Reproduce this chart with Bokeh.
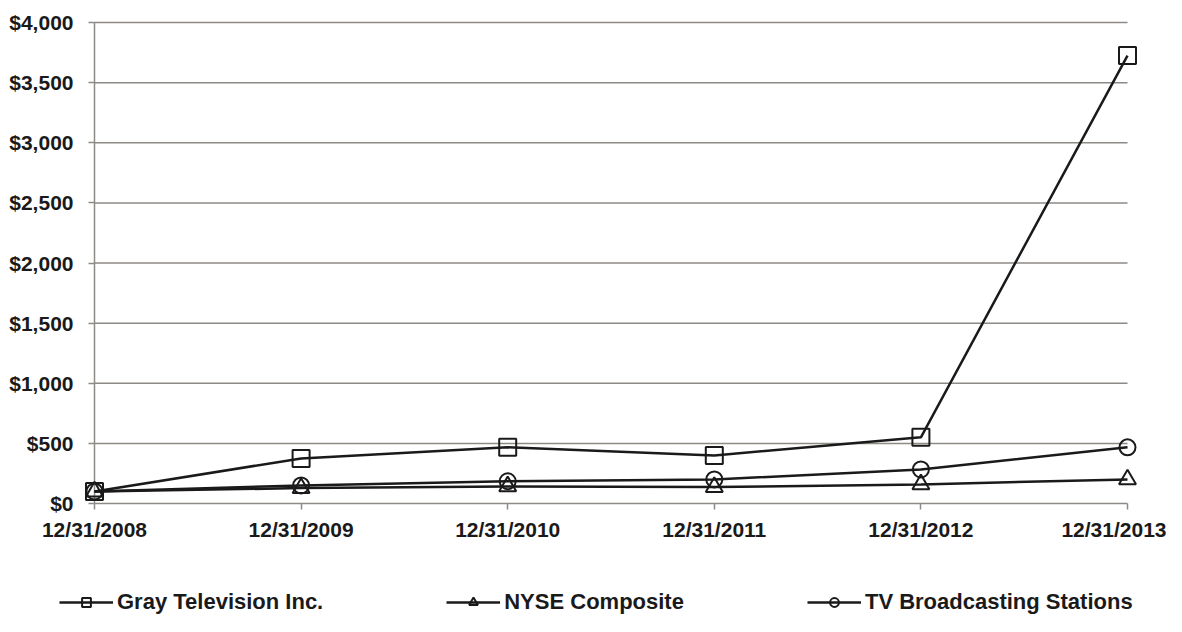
from bokeh.plotting import figure
from bokeh.models import (Range1d, FixedTicker, Legend, LegendItem)
from bokeh.embed import file_html
from bokeh.resources import INLINE

# ---- data ----
dates = ["12/31/2008", "12/31/2009", "12/31/2010", "12/31/2011", "12/31/2012", "12/31/2013"]
gray_tv = [100, 375, 467, 400, 550, 3725]
nyse = [100, 128, 142, 137, 159, 200]
tv_broadcasting = [100, 150, 185, 200, 283, 467]
y_ticks = [0, 500, 1000, 1500, 2000, 2500, 3000, 3500, 4000]
y_tick_labels = ["$0", "$500", "$1,000", "$1,500", "$2,000", "$2,500", "$3,000", "$3,500", "$4,000"]
series_names = ["Gray Television Inc.", "NYSE Composite", "TV Broadcasting Stations"]

x = list(range(len(dates)))
FONT = "Liberation Sans"
INK = "#1a1a1a"
GRID = "#8e8a86"

W, H = 1166, 616
# pixel layout of the plotting area inside the figure
X0_PX, X1_PX = 94, 1127   # first / last date
Y0_PX, Y1_PX = 503, 22    # $0 / $4,000
ux = (X1_PX - X0_PX) / (len(x) - 1)
uy = (Y0_PX - Y1_PX) / (y_ticks[-1] - y_ticks[0])

p = figure(width=W, height=H, output_backend="svg", toolbar_location=None,
           x_range=Range1d(x[0] - X0_PX / ux, x[-1] + (W - X1_PX) / ux),
           y_range=Range1d(y_ticks[0] - (H - Y0_PX) / uy, y_ticks[-1] + Y1_PX / uy),
           min_border=0)
p.outline_line_color = None
p.background_fill_color = "white"
p.border_fill_color = "white"
p.xgrid.visible = False
p.ygrid.visible = False

# gridlines spanning first to last date
n = len(y_ticks)
p.segment(x0=[x[0]] * n, x1=[x[-1]] * n, y0=y_ticks, y1=y_ticks, line_color=GRID, line_width=1.5)
# vertical axis line
p.segment(x0=[x[0]], x1=[x[0]], y0=[y_ticks[0]], y1=[y_ticks[-1]], line_color=GRID, line_width=1.5)

# axes, pinned at the data origin
p.xaxis.fixed_location = y_ticks[0]
p.xaxis.ticker = FixedTicker(ticks=x)
p.xaxis.major_label_overrides = {i: d for i, d in enumerate(dates)}
p.xaxis.major_label_standoff = 8

p.yaxis.fixed_location = x[0]
p.yaxis.ticker = FixedTicker(ticks=y_ticks)
p.yaxis.major_label_overrides = {t: l for t, l in zip(y_ticks, y_tick_labels)}
p.yaxis.major_label_standoff = 15

for ax in (p.xaxis, p.yaxis):
    ax.axis_line_color = None
    ax.major_tick_line_color = GRID
    ax.major_tick_line_width = 1.5
    ax.major_tick_out = 6
    ax.major_tick_in = 0
    ax.minor_tick_line_color = None
    ax.major_label_text_font = FONT
    ax.major_label_text_font_style = "bold"
    ax.major_label_text_font_size = "21px"
    ax.major_label_text_color = INK

# series
specs = [(gray_tv, "square", 17), (nyse, "triangle", 17), (tv_broadcasting, "circle", 16)]
items = []
for (vals, marker, size), name in zip(specs, series_names):
    lr = p.line(x, vals, line_color=INK, line_width=2.5)
    sr = p.scatter(x, vals, marker=marker, size=size, line_color=INK, line_width=2,
                   fill_color=None)
    items.append(LegendItem(label=name, renderers=[lr, sr]))

leg = Legend(items=items, location=(59, 1), orientation="horizontal",
             border_line_color=None, background_fill_alpha=0,
             padding=0, margin=0, spacing=123,
             glyph_width=54, glyph_height=22, label_standoff=4,
             label_text_font=FONT, label_text_font_style="bold",
             label_text_font_size="22px", label_text_color=INK,
             label_text_baseline="middle")
p.add_layout(leg, "center")

open("out.html", "w").write(file_html(p, INLINE))
